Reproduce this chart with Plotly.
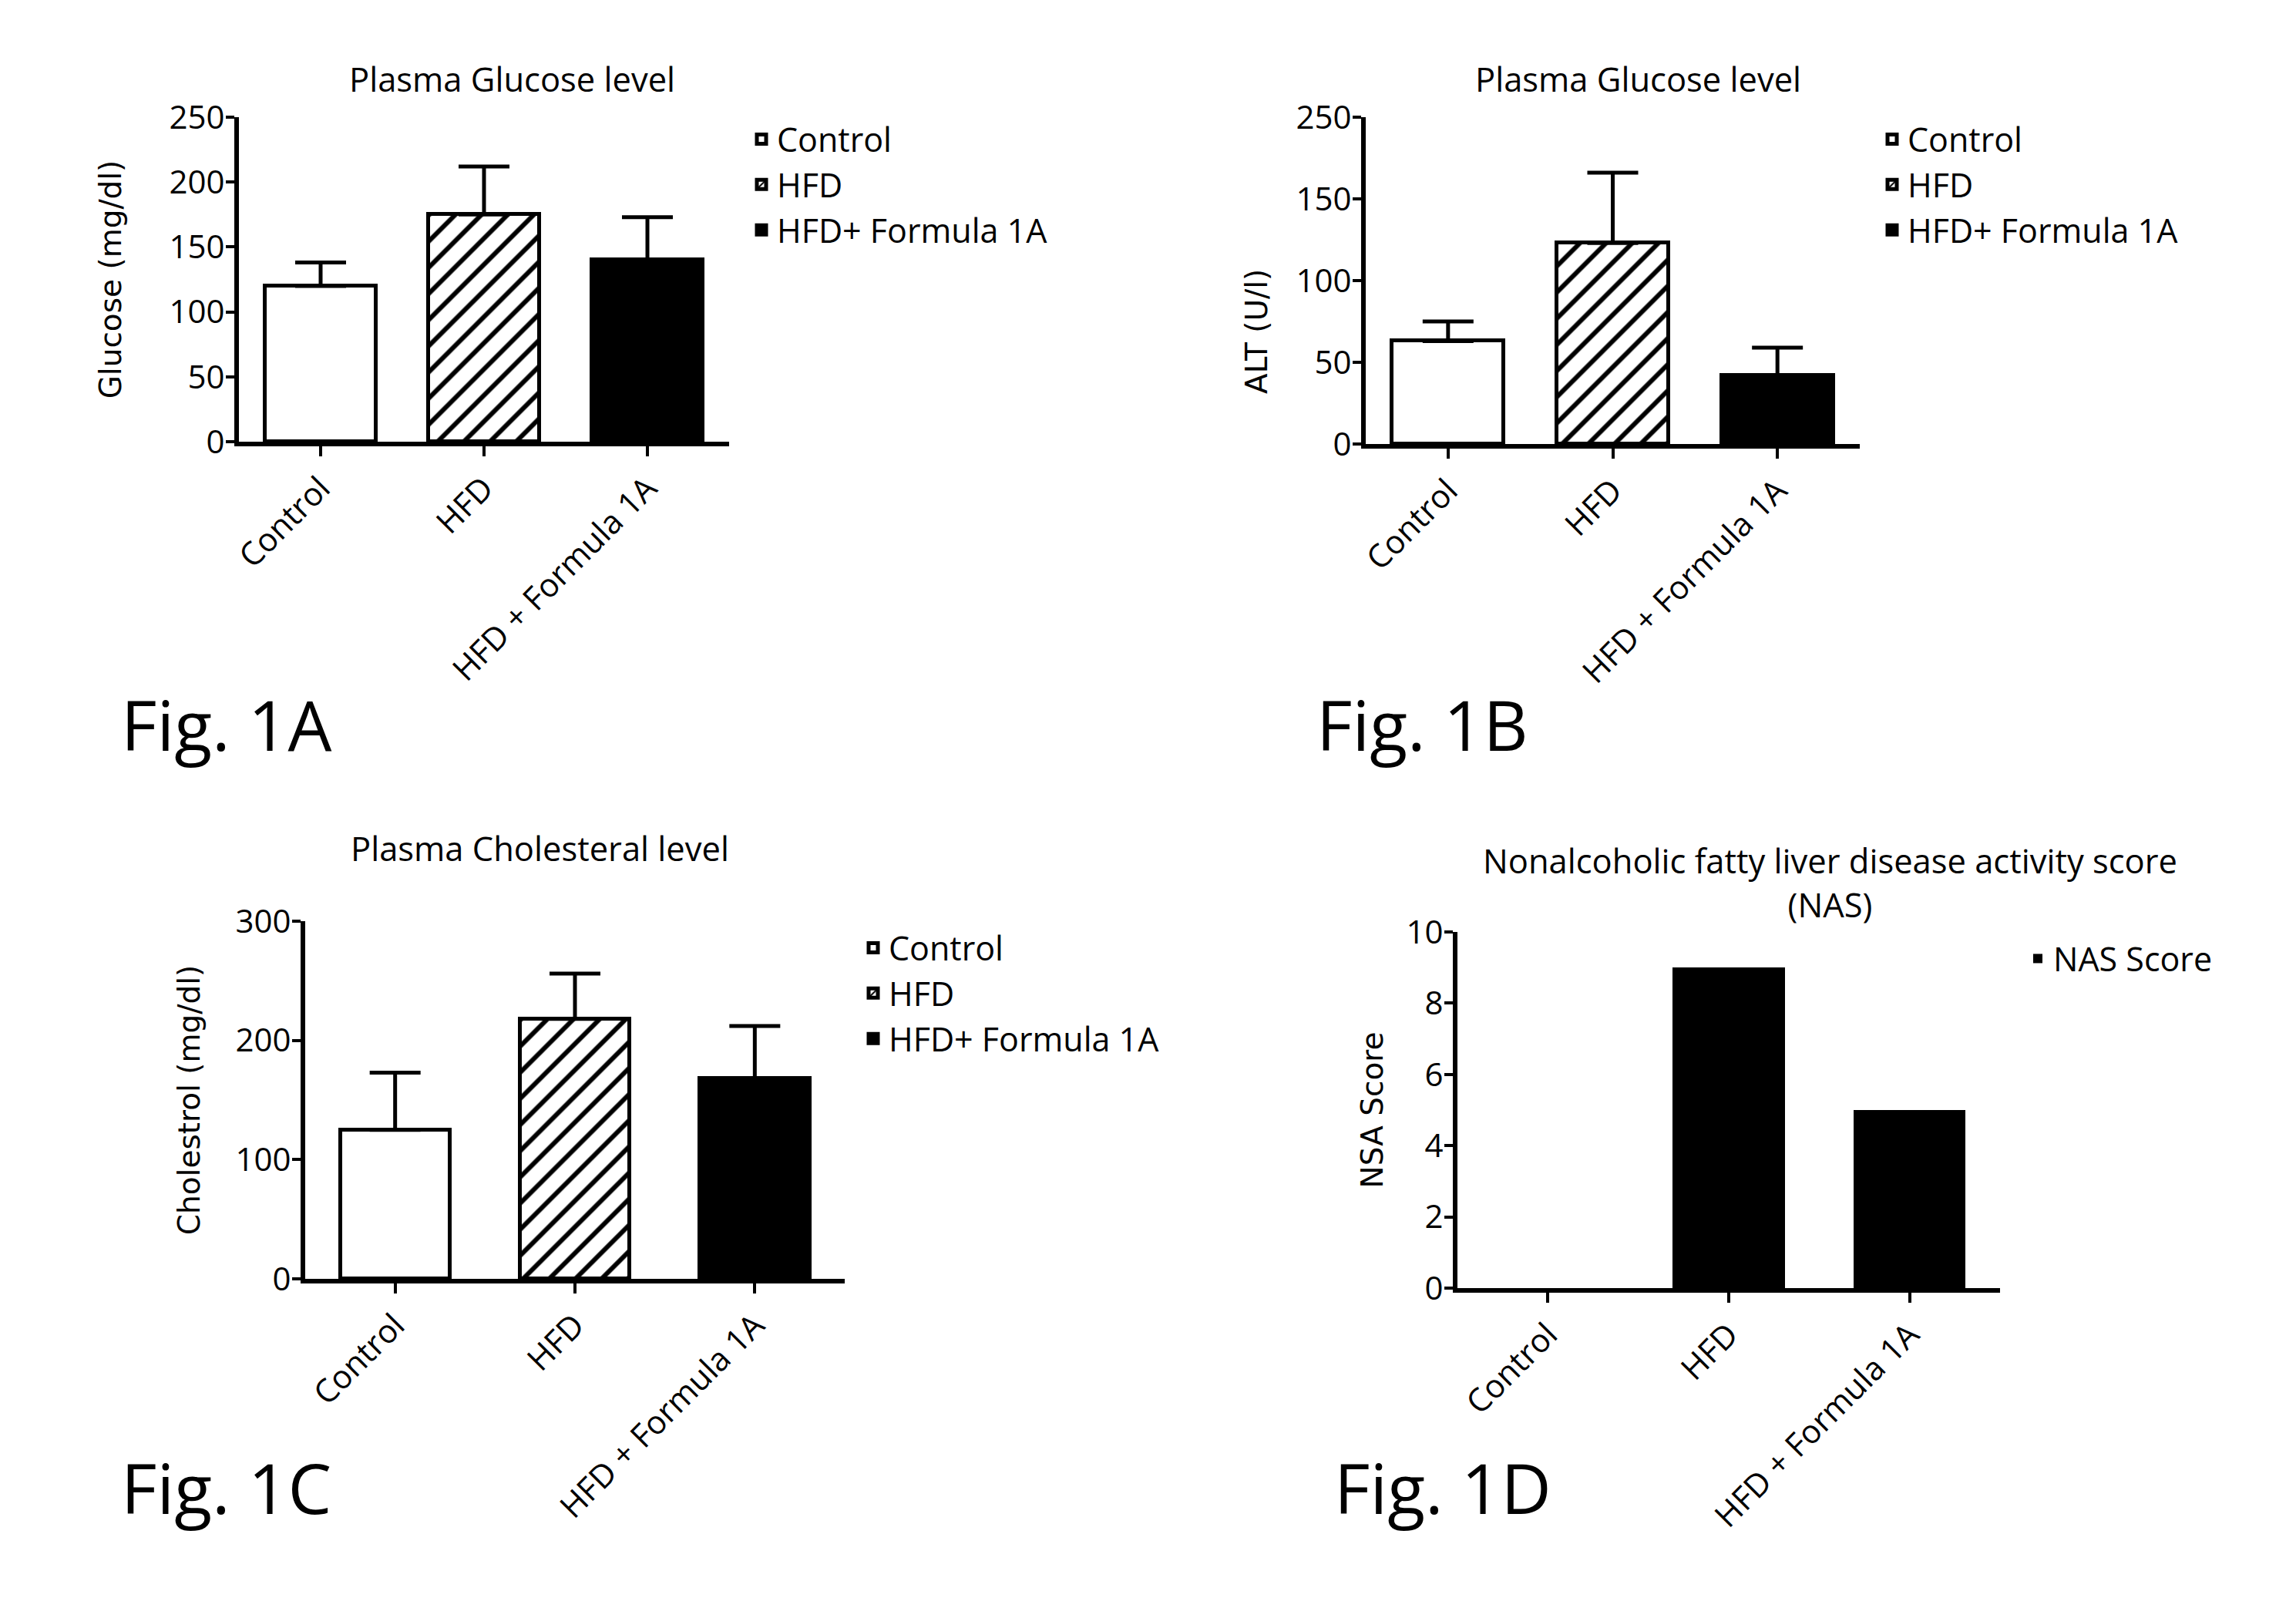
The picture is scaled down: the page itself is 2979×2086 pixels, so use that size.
import plotly.graph_objects as go

W, H = 2979, 2086

# ---------------- data ----------------
categories = ["Control", "HFD", "HFD + Formula 1A"]
legend_names = ["Control", "HFD", "HFD+ Formula 1A"]

glucose_mean = [120, 175, 140]
glucose_err = [18, 37, 33]

alt_mean = [63, 123, 42]
alt_err = [12, 43, 17]

chol_mean = [125, 218, 168]
chol_err = [48, 38, 44]

nas_score = [0, 9, 5]
nas_name = "NAS Score"

glucose_ticks = [0, 50, 100, 150, 200, 250]
alt_tickvals = [0, 50, 100, 150, 200]
alt_ticktext = ["0", "50", "100", "150", "250"]
chol_ticks = [0, 100, 200, 300]
nas_ticks = [0, 2, 4, 6, 8, 10]

# ---------------- helpers ----------------
def px(x):
    return x / W


def py(y):
    return 1 - y / H


MYRIAD = "Open Sans"
WIDE = "DejaVu Sans"
BLACK = "black"

fills = [
    dict(color="white"),
    dict(color="white", pattern=dict(shape="/", fgcolor=BLACK, bgcolor="white",
                                     size=24, solidity=0.25, fillmode="replace")),
    dict(color=BLACK),
]

fig = go.Figure()


def add_group(mean, err, xa, ya, legend, width):
    for i in range(3):
        m = dict(fills[i])
        m["line"] = dict(color=BLACK, width=5)
        fig.add_trace(go.Bar(
            x=[categories[i]], y=[mean[i]], name=legend_names[i],
            xaxis=xa, yaxis=ya, legend=legend, width=width,
            marker=m,
            error_y=dict(type="data", symmetric=False, array=[err[i]], arrayminus=[0],
                         color=BLACK, thickness=5, width=33),
        ))


add_group(glucose_mean, glucose_err, "x", "y", "legend", 0.68)
add_group(alt_mean, alt_err, "x2", "y2", "legend2", 0.68)
add_group(chol_mean, chol_err, "x3", "y3", "legend3", 0.61)

fig.add_trace(go.Bar(
    x=categories, y=nas_score, name=nas_name, xaxis="x4", yaxis="y4",
    legend="legend4", width=0.62, showlegend=True,
    marker=dict(color=BLACK, line=dict(color=BLACK, width=0)),
))


def xaxis(dom, anchor):
    return dict(domain=dom, anchor=anchor, range=[-0.5, 2.5], type="category",
                categoryorder="array", categoryarray=categories, automargin=False,
                showline=True, linecolor=BLACK, linewidth=6, ticks="outside",
                ticklen=13, tickwidth=4, tickcolor=BLACK, tickangle=-45,
                tickfont=dict(family=MYRIAD, size=42, color=BLACK),
                showgrid=False, zeroline=False, fixedrange=True)


def yaxis(dom, anchor, rng, tickvals, ticktext, title, standoff):
    d = dict(domain=dom, anchor=anchor, range=rng, tickmode="array",
             tickvals=tickvals, ticktext=ticktext, automargin=False,
             showline=True, linecolor=BLACK, linewidth=6, ticks="outside",
             ticklen=11, tickwidth=4, tickcolor=BLACK, ticklabelstandoff=-7,
             tickfont=dict(family=MYRIAD, size=42, color=BLACK),
             showgrid=False, zeroline=False, fixedrange=True)
    if title:
        d["title"] = dict(text=title, font=dict(family=WIDE, size=39, color=BLACK),
                          standoff=standoff)
    return d


dA_x, dA_y = [px(310), px(946)], [py(573), py(152)]
dB_x, dB_y = [px(1772), px(2413)], [py(576), py(152)]
dC_x, dC_y = [px(396), px(1096)], [py(1659), py(1195)]
dD_x, dD_y = [px(1891), px(2595)], [py(1671), py(1209)]

fig.update_layout(
    template="none",
    width=W, height=H, margin=dict(l=0, r=0, t=0, b=0, pad=0, autoexpand=False),
    paper_bgcolor="white", plot_bgcolor="white",
    barmode="overlay", bargap=0,
    font=dict(family=MYRIAD, color=BLACK),
    xaxis=xaxis(dA_x, "y"),
    yaxis=yaxis(dA_y, "x", [0, 250], glucose_ticks, [str(v) for v in glucose_ticks],
                "Glucose (mg/dl)", 52),
    xaxis2=xaxis(dB_x, "y2"),
    yaxis2=yaxis(dB_y, "x2", [0, 200], alt_tickvals, alt_ticktext, None, 0),
    xaxis3=xaxis(dC_x, "y3"),
    yaxis3=yaxis(dC_y, "x3", [0, 300], chol_ticks, [str(v) for v in chol_ticks],
                 "Cholestrol (mg/dl)", 36),
    xaxis4=xaxis(dD_x, "y4"),
    yaxis4=yaxis(dD_y, "x4", [0, 10], nas_ticks, [str(v) for v in nas_ticks],
                 "NSA Score", 20),
)

# y title of panel B sits below the axis centre in the original
fig.add_annotation(text="ALT (U/l)", x=px(1630), y=py(430), xref="paper", yref="paper",
                   xanchor="center", yanchor="middle", textangle=-90, showarrow=False,
                   font=dict(family=WIDE, size=39, color=BLACK))

leg_common = dict(xanchor="left", yanchor="top", bgcolor="rgba(0,0,0,0)",
                  font=dict(family=MYRIAD, size=43, color=BLACK), traceorder="normal")
fig.update_layout(
    legend=dict(x=px(1013 - 45), y=py(176 - 30), **leg_common),
    legend2=dict(x=px(2480 - 45), y=py(176 - 30), **leg_common),
    legend3=dict(x=px(1158 - 45), y=py(1225 - 30), **leg_common),
    legend4=dict(x=px(2669 - 45), y=py(1239 - 30), **leg_common),
)

titles = [
    ("Plasma Glucose level", 664, 103),
    ("Plasma Glucose level", 2125, 103),
    ("Plasma Cholesteral level", 700, 1100),
    ("Nonalcoholic fatty liver disease activity score<br>(NAS)", 2374, 1145),
]
for text, x, y in titles:
    fig.add_annotation(text=text, x=px(x), y=py(y), xref="paper", yref="paper",
                       xanchor="center", yanchor="middle", showarrow=False,
                       font=dict(family=MYRIAD, size=43.5, color=BLACK))

fig_labels = [("Fig. 1A", 155, 939), ("Fig. 1B", 1706, 939),
              ("Fig. 1C", 155, 1929), ("Fig. 1D", 1729, 1929)]
for text, x, y in fig_labels:
    fig.add_annotation(text=text, x=px(x), y=py(y), xref="paper", yref="paper",
                       xanchor="left", yanchor="middle", showarrow=False,
                       font=dict(family=MYRIAD, size=90, color=BLACK))

fig.write_html("out.html")
